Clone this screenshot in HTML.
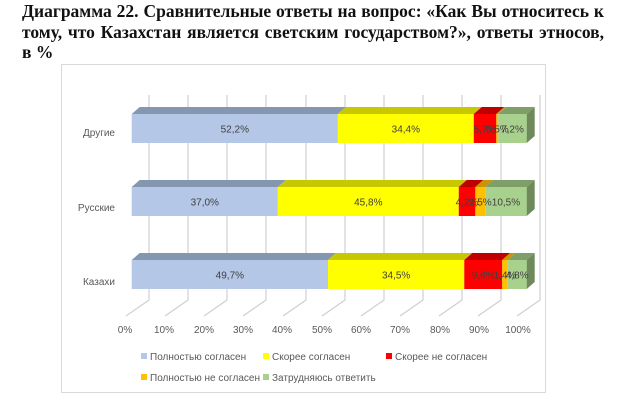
<!DOCTYPE html>
<html><head><meta charset="utf-8"><style>
body{margin:0;background:#fff;width:624px;height:410px;overflow:hidden;position:relative}
.t{position:absolute;left:22px;top:1px;width:582px;font-family:"Liberation Serif",serif;font-weight:bold;font-size:17.5px;line-height:20.5px;text-align:justify;text-align-last:left;color:#111}
svg{position:absolute;left:0;top:0}
</style></head><body>
<div class="t">Диаграмма 22. Сравнительные ответы на вопрос: «Как Вы относитесь к тому, что Казахстан является светским государством?», ответы этносов, в %</div>
<svg width="624" height="410" font-family="Liberation Sans,sans-serif">
<rect x="61.5" y="64.5" width="484" height="328" fill="#fff" stroke="#d9d9d9"/>
<g stroke="#d0d0d0" stroke-width="1.2" fill="none">
<path d="M149,95V300L126,316"/><path d="M188,95V300L165,316"/><path d="M227,95V300L204,316"/><path d="M266,95V300L243,316"/><path d="M306,95V300L283,316"/><path d="M345,95V300L322,316"/><path d="M384,95V300L361,316"/><path d="M423,95V300L400,316"/><path d="M462,95V300L439,316"/><path d="M501,95V300L478,316"/><path d="M540,95V300L517,316"/>
</g>
<g id="bars"></g>
<g font-size="10" fill="#595959" text-anchor="middle">
<text x="125" y="333">0%</text><text x="164" y="333">10%</text><text x="204" y="333">20%</text><text x="243" y="333">30%</text><text x="282" y="333">40%</text><text x="322" y="333">50%</text><text x="361" y="333">60%</text><text x="400" y="333">70%</text><text x="440" y="333">80%</text><text x="479" y="333">90%</text><text x="518" y="333">100%</text>
</g>
<g font-size="10" fill="#595959" text-anchor="end">
<text x="115" y="136">Другие</text><text x="115" y="211">Русские</text><text x="115" y="285">Казахи</text>
</g>
<g font-size="10" fill="#595959">
<rect x="141" y="353" width="6" height="6" fill="#b4c7e7"/><text x="150" y="360">Полностью согласен</text>
<rect x="263" y="353" width="6" height="6" fill="#ffff00"/><text x="272" y="360">Скорее согласен</text>
<rect x="386" y="353" width="6" height="6" fill="#ff0000"/><text x="395" y="360">Скорее не согласен</text>
<rect x="141" y="374" width="6" height="6" fill="#ffc000"/><text x="150" y="381">Полностью не согласен</text>
<rect x="263" y="374" width="6" height="6" fill="#a9d18e"/><text x="272" y="381">Затрудняюсь ответить</text>
</g>
</svg>
<script>
(function(){
var data=[[114,[52.2,34.4,5.7,0.5,7.2],["52,2%","34,4%","5,7%","0,5%","7,2%"]],[187,[37.0,45.8,4.2,2.5,10.5],["37,0%","45,8%","4,2%","2,5%","10,5%"]],[260,[49.7,34.5,9.6,1.4,4.8],["49,7%","34,5%","9,6%","1,4%","4,8%"]]];
var fr=["#b4c7e7","#ffff00","#ff0000","#ffc000","#a9d18e"],tp=["#8497b0","#c8c800","#c00000","#c89600","#7f9f6a"];
var x0=131.7,k=3.95,h=29,dx=8,dy=-7,s="";
data.forEach(function(d){var y=d[0],v=d[1],l=d[2],x=x0;
v.forEach(function(p,i){var w=p*k;
s+='<polygon points="'+x+','+y+' '+(x+dx)+','+(y+dy)+' '+(x+w+dx)+','+(y+dy)+' '+(x+w)+','+y+'" fill="'+tp[i]+'"/>';
s+='<rect x="'+x+'" y="'+y+'" width="'+w+'" height="'+h+'" fill="'+fr[i]+'"/>';
x+=w;});
s+='<polygon points="'+x+','+y+' '+(x+dx)+','+(y+dy)+' '+(x+dx)+','+(y+dy+h)+' '+x+','+(y+h)+'" fill="#6f8a5a"/>';
x=x0;v.forEach(function(p,i){var w=p*k;s+='<text x="'+(x+w/2)+'" y="'+(y+h/2+4)+'" font-size="10" fill="#404040" text-anchor="middle">'+l[i]+'</text>';x+=w;});});
document.getElementById("bars").innerHTML=s;
})();
</script>
</body></html>
